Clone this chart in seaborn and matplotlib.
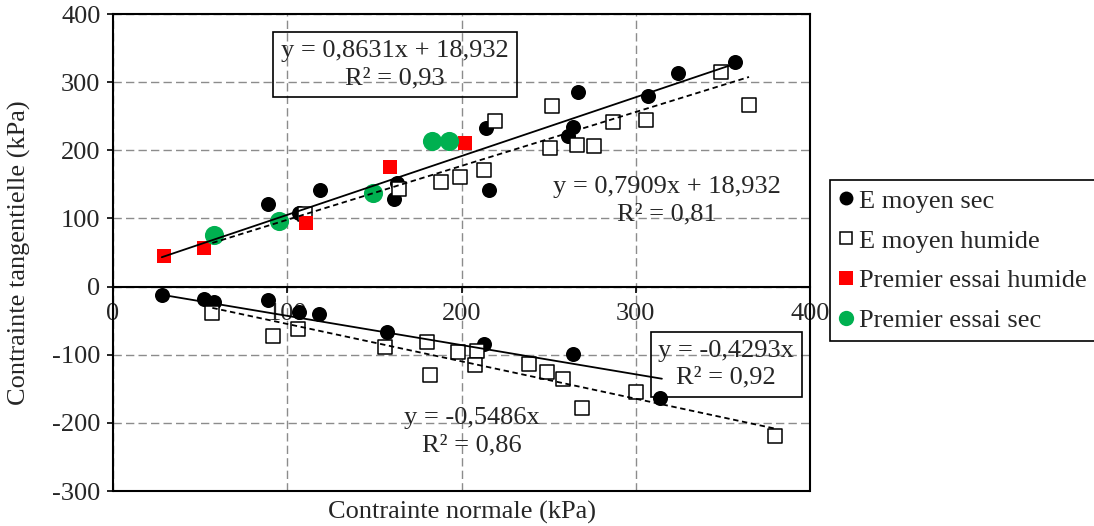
import matplotlib
matplotlib.use('Agg')
import matplotlib.pyplot as plt
from matplotlib.lines import Line2D
import seaborn as sns

# E moyen sec (cercles noirs)
sec_x = [89, 107, 119, 163, 161, 214, 216, 267, 264, 261, 307, 324, 357,
         28, 52, 58, 89, 107, 118, 157, 213, 264, 314]
sec_y = [121, 108, 141, 152, 128, 232, 142, 285, 234, 221, 280, 314, 330,
         -12, -18, -23, -20, -38, -40, -67, -84, -99, -164]

# E moyen humide (carrés vides)
hum_x = [110, 164, 188, 199, 213, 219, 252, 251, 266, 276, 287, 306, 349, 365,
         57, 92, 106, 156, 180, 182, 198, 209, 208, 239, 249, 258, 269, 300, 380]
hum_y = [107, 143, 154, 161, 171, 243, 265, 203, 208, 206, 241, 245, 315, 266,
         -39, -72, -62, -88, -81, -130, -96, -94, -115, -113, -125, -135, -178, -154, -219]

# Premier essai humide (carrés rouges)
pe_hum_x = [29, 52, 111, 159, 202]
pe_hum_y = [45, 57, 94, 175, 210]

# Premier essai sec (cercles verts)
pe_sec_x = [58, 95, 149, 183, 193]
pe_sec_y = [75, 96, 138, 213, 213]

# Courbes de tendance
pentes = [0.8631, 0.7909, -0.4293, -0.5486]
ordonnees = [18.932, 18.932, 0, 0]
x_debut = [28, 57, 28, 57]
x_fin = [357, 365, 315, 380]
styles = ['-', (0, (3, 2)), '-', (0, (3, 2))]

equations = ["y = 0,8631x + 18,932\nR² = 0,93",
             "y = 0,7909x + 18,932\nR² = 0,81",
             "y = -0,4293x\nR² = 0,92",
             "y = -0,5486x\nR² = 0,86"]
eq_pos = [(162, 326), (318, 126), (352, -114), (206, -213)]
eq_box = [True, False, True, False]

sns.set_style('white')
plt.rcParams['font.family'] = ['Liberation Serif', 'DejaVu Serif']
plt.rcParams['font.size'] = 19
plt.rcParams['axes.unicode_minus'] = False

fig = plt.figure(figsize=(10.94, 5.26), dpi=100)
ax = fig.add_axes([113 / 1094, 1 - 491 / 526, 697 / 1094, 477 / 526])

sns.scatterplot(x=sec_x, y=sec_y, ax=ax, color='black', marker='o', s=117,
                linewidth=0, zorder=3)
sns.scatterplot(x=hum_x, y=hum_y, ax=ax, facecolor='white', edgecolor='black',
                marker='s', s=88, linewidth=1.1, zorder=3)
sns.scatterplot(x=pe_hum_x, y=pe_hum_y, ax=ax, color='#ff0000', marker='s', s=100,
                linewidth=0, zorder=3)
sns.scatterplot(x=pe_sec_x, y=pe_sec_y, ax=ax, color='#00b050', marker='o', s=190,
                linewidth=0, zorder=3)

for a, b, x0, x1, ls in zip(pentes, ordonnees, x_debut, x_fin, styles):
    sns.lineplot(x=[x0, x1], y=[a * x0 + b, a * x1 + b], ax=ax, color='black',
                 linestyle=ls, linewidth=1.3, zorder=4)

for txt, (tx, ty), boxed in zip(equations, eq_pos, eq_box):
    kw = {}
    if boxed:
        kw['bbox'] = dict(boxstyle='square,pad=0.3', facecolor='none',
                          edgecolor='black', linewidth=1.2)
    ax.text(tx, ty, txt, ha='center', va='center', multialignment='center',
            fontsize=19, zorder=5, linespacing=1.3, **kw)

ax.set_xlim(0, 400)
ax.set_ylim(-300, 400)
ax.set_xticks([0, 100, 200, 300, 400])
ax.set_yticks(range(-300, 401, 100))
ax.grid(True, color='#8c8c8c', linestyle=(0, (6, 3)), linewidth=1)
ax.set_axisbelow(True)

for sp in ax.spines.values():
    sp.set_color('black')
    sp.set_linewidth(1.5)
ax.spines['bottom'].set_position(('data', 0))
ax.axhline(-300, color='black', linewidth=1.5, clip_on=False)

ax.tick_params(axis='both', labelsize=19, direction='out', length=4, width=1.2,
               color='black', left=True, bottom=True, pad=5)
ax.tick_params(axis='x', pad=8)

ax.set_xlabel('Contrainte normale (kPa)', fontsize=19)
ax.xaxis.set_label_coords(0.5, -0.02)
ax.set_ylabel('Contrainte tangentielle (kPa)', fontsize=19)
ax.yaxis.set_label_coords(-0.118, 0.5)

# Légende
handles = [
    Line2D([], [], linestyle='none', marker='o', markersize=10,
           markerfacecolor='black', markeredgewidth=0),
    Line2D([], [], linestyle='none', marker='s', markersize=9,
           markerfacecolor='white', markeredgecolor='black', markeredgewidth=1.1),
    Line2D([], [], linestyle='none', marker='s', markersize=10,
           markerfacecolor='#ff0000', markeredgewidth=0),
    Line2D([], [], linestyle='none', marker='o', markersize=11,
           markerfacecolor='#00b050', markeredgewidth=0),
]
labels = ['E moyen sec', 'E moyen humide', 'Premier essai humide', 'Premier essai sec']
fig.legend(handles, labels, loc='upper left', bbox_to_anchor=(830 / 1094, 1 - 180 / 526),
           borderaxespad=0, frameon=True, fancybox=False, edgecolor='black',
           framealpha=1, fontsize=19, handletextpad=0.2, handlelength=0.55,
           labelspacing=0.62, borderpad=0.35)
fig.legends[0].get_frame().set_linewidth(1.2)

fig.savefig('out.png', dpi=100)
